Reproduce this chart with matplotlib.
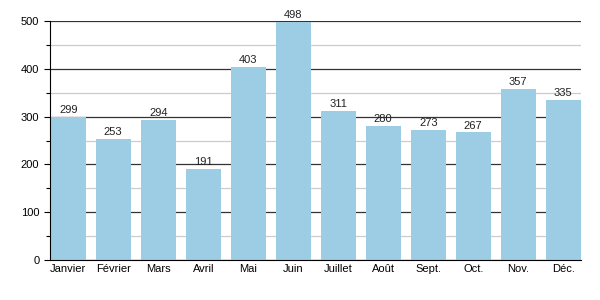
import matplotlib
matplotlib.use('Agg')
from matplotlib import pyplot as plt
from matplotlib.ticker import MultipleLocator

months = ['Janvier', 'Février', 'Mars', 'Avril', 'Mai', 'Juin',
          'Juillet', 'Août', 'Sept.', 'Oct.', 'Nov.', 'Déc.']
values = [299, 253, 294, 191, 403, 498, 311, 280, 273, 267, 357, 335]

plt.rcParams['font.family'] = ['Liberation Sans', 'DejaVu Sans']

fig = plt.figure(figsize=(6, 3), dpi=100)
ax = fig.add_axes([0.083, 0.133, 0.885, 0.797])

x = range(len(months))
bar_w = 0.78
bars = ax.bar(x, values, width=bar_w, color='#9ccde4', zorder=3)

# value labels on top of each bar
for xi, v in zip(x, values):
    ax.text(xi, v + 4, str(v), ha='center', va='bottom', fontsize=8, color='#222222', zorder=4)

# bars run right up to the axes on both sides
ax.set_xlim(-bar_w / 2 - 0.02, len(months) - 1 + bar_w / 2)
ax.set_ylim(0, 500)
ax.set_xticks(list(x))
ax.set_xticklabels(months, fontsize=8)
ax.yaxis.set_major_locator(MultipleLocator(100))
ax.yaxis.set_minor_locator(MultipleLocator(50))
ax.tick_params(axis='y', labelsize=8, length=4, width=0.8)
ax.tick_params(axis='y', which='minor', length=3, width=0.8)
ax.tick_params(axis='x', length=0, pad=3)

# dark gridlines at 100s, light ones in between
ax.grid(axis='y', which='major', color='#333333', linewidth=0.9, zorder=1)
ax.grid(axis='y', which='minor', color='#cccccc', linewidth=0.9, zorder=1)

ax.spines['top'].set_visible(False)
ax.spines['right'].set_visible(False)
ax.spines['left'].set_color('black')
ax.spines['bottom'].set_color('black')
ax.spines['left'].set_zorder(5)
ax.spines['bottom'].set_zorder(5)

plt.savefig('out.png', dpi=100)
